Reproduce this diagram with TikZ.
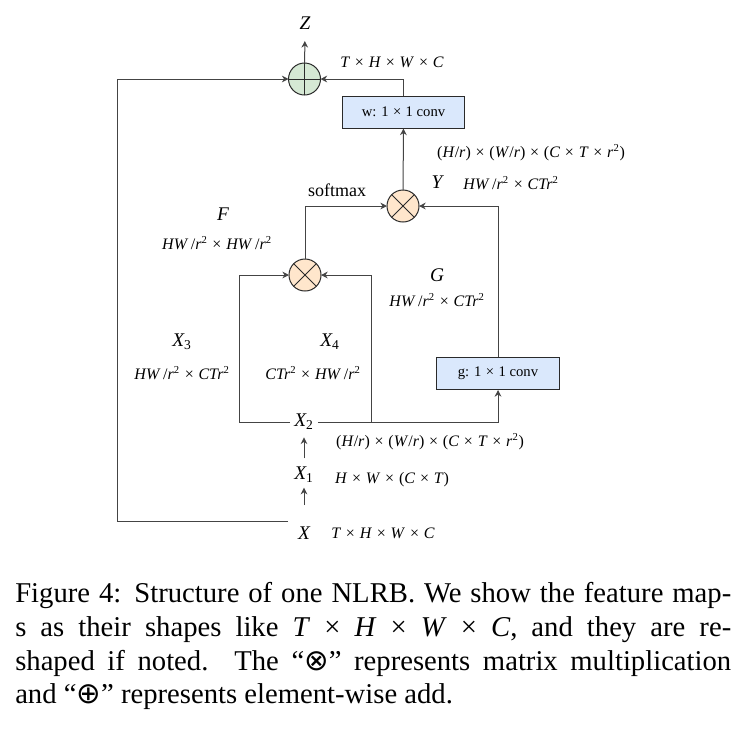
\documentclass[tikz,border=0pt]{standalone}
\usepackage{fontspec}
\setmainfont{Liberation Serif}
\newfontfamily\opsymfont{DejaVu Sans}
\usetikzlibrary{arrows.meta}

\definecolor{addgreen}{HTML}{D5E8D4}
\definecolor{mulorange}{HTML}{FFE6CC}
\definecolor{convblue}{HTML}{DAE8FC}
\definecolor{wire}{HTML}{444444}
\definecolor{rim}{HTML}{2A2A2A}

\newcommand*{\tms}{\hspace{0.3em}×\hspace{0.3em}}
\newcommand*{\sq}{\textsuperscript{2}}
\newcommand*{\opsym}[1]{{\opsymfont\fontsize{22}{22}\selectfont #1}}

\begin{document}
\begin{tikzpicture}[x=0.75pt,y=-0.75pt]
\useasboundingbox (0,0) rectangle (748,729);

\tikzstyle{flow} = [draw=wire, line width=0.75pt, -{Stealth[length=5pt,width=5pt]}];
\tikzstyle{addop} = [circle, draw=rim, fill=addgreen, line width=0.75pt, minimum size=24pt, inner sep=0pt, outer sep=0pt,
  path picture={\draw[rim, line width=0.75pt] (path picture bounding box.north) -- (path picture bounding box.south)
    (path picture bounding box.west) -- (path picture bounding box.east);}];
\tikzstyle{mulop} = [circle, draw=rim, fill=mulorange, line width=0.75pt, minimum size=24pt, inner sep=0pt, outer sep=0pt,
  path picture={\draw[rim, line width=0.75pt] (path picture bounding box.center) ++(45:12pt) -- ++(225:24pt)
    (path picture bounding box.center) ++(135:12pt) -- ++(-45:24pt);}];
\tikzstyle{convbox} = [rectangle, draw=rim, fill=convblue, line width=0.75pt, minimum width=92pt, minimum height=24pt,
  inner sep=0pt, font=\fontsize{11}{13}\selectfont];
\tikzstyle{biglbl} = [inner sep=0pt, font=\fontsize{14.5}{17}\selectfont\itshape];
\tikzstyle{dimlbl} = [inner sep=0pt, font=\fontsize{12}{14}\selectfont];
\tikzstyle{capline} = [anchor=base west, inner sep=0pt, font=\fontsize{21.5}{25}\selectfont];

%output:
\node[addop] (plus) at (304.5,79) {};
\node[biglbl] (Z) at (305,23) {Z};
\draw[flow, shorten >=8.5pt] (plus) -- (Z);
\node[dimlbl] (zdim) at (392,62) {\textit{T}\tms\textit{H}\tms\textit{W}\tms\textit{C}};

\node[convbox] (wbox) at (403.5,112) {w: 1\tms 1 conv};
\draw[flow] (wbox) |- (plus);

%attention:
\node[mulop] (mulY) at (403,206) {};
\draw[flow] (mulY) -- (wbox);
\node[dimlbl] (ydimtop) at (531,153) {(\textit{H}/\textit{r})\tms(\textit{W}/\textit{r})\tms(\textit{C}\tms\textit{T}\tms\textit{r}\sq)};
\node[biglbl] (Y) at (437,182) {Y};
\node[dimlbl] (ydim) at (511,183) {\textit{HW}\,/\textit{r}\sq\tms\textit{CTr}\sq};
\node[font=\fontsize{13.5}{16}\selectfont, inner sep=0pt] (softmax) at (337,190) {softmax};

\node[mulop] (mulF) at (305,275) {};
\draw[flow] (mulF) |- (mulY);
\node[biglbl] (F) at (223,214) {F};
\node[dimlbl] (fdim) at (217,243) {\textit{HW}\,/\textit{r}\sq\tms\textit{HW}\,/\textit{r}\sq};

\node[convbox] (gbox) at (498,373.5) {g: 1\tms 1 conv};
\draw[flow] (gbox) |- (mulY);
\node[biglbl] (G) at (437,275) {G};
\node[dimlbl] (gdim) at (437,300) {\textit{HW}\,/\textit{r}\sq\tms\textit{CTr}\sq};

\node[biglbl] (X3) at (182,342) {X\textsubscript{\upshape 3}};
\node[dimlbl] (x3dim) at (182,373) {\textit{HW}\,/\textit{r}\sq\tms\textit{CTr}\sq};
\node[biglbl] (X4) at (330,342) {X\textsubscript{\upshape 4}};
\node[dimlbl] (x4dim) at (313,373) {\textit{CTr}\sq\tms\textit{HW}\,/\textit{r}\sq};

%input:
\node[biglbl, inner xsep=3pt] (X2) at (304,422) {X\textsubscript{\upshape 2}};
\node[dimlbl] (x2dim) at (430,442) {(\textit{H}/\textit{r})\tms(\textit{W}/\textit{r})\tms(\textit{C}\tms\textit{T}\tms\textit{r}\sq)};
\node[biglbl] (X1) at (304,475) {X\textsubscript{\upshape 1}};
\node[dimlbl] (x1dim) at (392,480) {\textit{H}\tms\textit{W}\tms(\textit{C}\tms\textit{T})};
\node[biglbl] (X) at (304,533) {X};
\node[dimlbl] (xdim) at (383,533) {\textit{T}\tms\textit{H}\tms\textit{W}\tms\textit{C}};

\draw[flow, shorten <=16pt, shorten >=3.5pt] (X) -- (X1);
\draw[flow, shorten <=6.5pt, shorten >=5.5pt] (X1) -- (X2);

\coordinate (lcol) at (239,422);
\coordinate (rcol) at (371,422);
\draw[flow] (X2) -- (lcol) |- (mulF);
\draw[flow] (X2) -- (rcol) |- (mulF);
\draw[flow] (rcol) -| (gbox);

%skip:
\coordinate (xtap) at (288,521);
\draw[flow] (xtap) -- ++(-171,0) |- (plus);

%caption
\node[capline] (cap1) at (15,602) {\makebox[537pt][s]{Figure 4: Structure of one NLRB. We show the feature map-}};
\node[capline] (cap2) at (15,636) {\makebox[537pt][s]{s as their shapes like \textit{T} × \textit{H} × \textit{W} × \textit{C}, and they are re-}};
\node[capline] (cap3) at (15,670) {\makebox[537pt][s]{shaped if noted. The “\opsym{⊗}” represents matrix multiplication}};
\node[capline] (cap4) at (15,703) {and “\opsym{⊕}” represents element-wise add.};

\end{tikzpicture}
\end{document}
